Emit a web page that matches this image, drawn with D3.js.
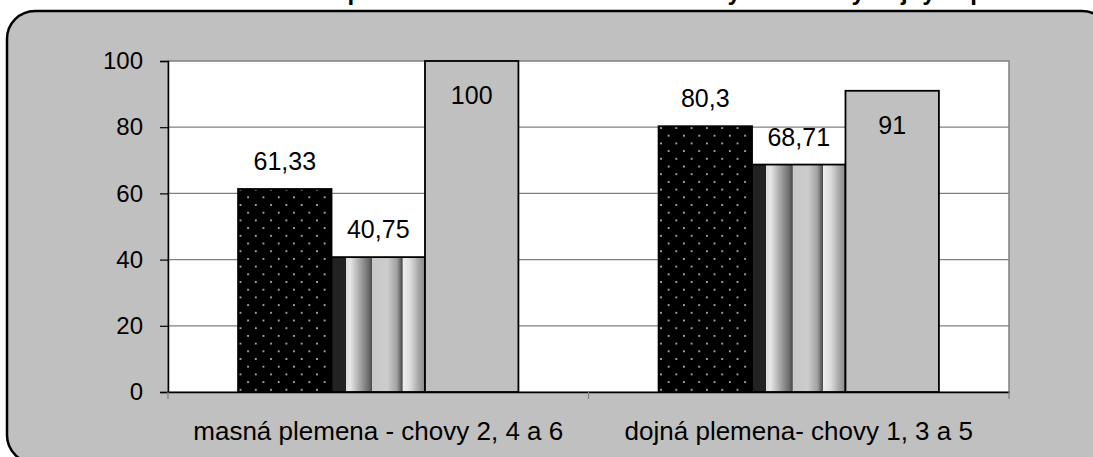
<!DOCTYPE html>
<html>
<head>
<meta charset="utf-8">
<script src="https://cdn.jsdelivr.net/npm/d3@7/dist/d3.min.js"></script>
<style>
  html, body { margin: 0; padding: 0; background: #ffffff; overflow: hidden; }
  svg { display: block; font-family: "Liberation Sans", Arial, sans-serif; }
</style>
</head>
<body>
<svg id="chart" width="1093" height="457"></svg>
<script>
// Categories (breed groups) and the three series values per category
const categories = ["masná plemena - chovy 2, 4 a 6", "dojná plemena- chovy 1, 3 a 5"];
const seriesKeys = ["s1", "s2", "s3"];
const series1 = [61.33, 80.3];
const series2 = [40.75, 68.71];
const series3 = [100, 91];
const yTicks = [0, 20, 40, 60, 80, 100];
const titleText = "Zabřezávání po 1. inseminaci v chovech masných a chovy dojných plemen";

const fmt = v => String(v).replace(".", ",");

const svg = d3.select("#chart");
const plot = { left: 168, right: 1009, top: 61, bottom: 392 };
const FONT = "Liberation Sans, Arial, sans-serif";

// ---- fills ----
const defs = svg.append("defs");

// black fill with staggered light dots
const dots = defs.append("pattern")
  .attr("id", "dots").attr("patternUnits", "userSpaceOnUse")
  .attr("x", 237).attr("y", 0)
  .attr("width", 15.3).attr("height", 15.4);
dots.append("rect").attr("width", 15.3).attr("height", 15.4).attr("fill", "#000");
dots.append("rect").attr("x", 3).attr("y", 4).attr("width", 1.6).attr("height", 1.6).attr("fill", "#e4e4e4");
dots.append("rect").attr("x", 10.6).attr("y", 11.7).attr("width", 1.6).attr("height", 1.6).attr("fill", "#e4e4e4");

// vertical cylinder-like stripes
const stripes = defs.append("linearGradient")
  .attr("id", "stripes").attr("x1", 0).attr("x2", 1).attr("y1", 0).attr("y2", 0);
[
  [0.000, "#222222"], [0.150, "#222222"],
  [0.152, "#dcdcdc"], [0.200, "#e6e6e6"], [0.300, "#a8a8a8"], [0.400, "#6a6a6a"], [0.432, "#4a4a4a"],
  [0.436, "#c8c8c8"], [0.600, "#cccccc"], [0.700, "#a0a0a0"], [0.750, "#555555"], [0.758, "#444444"],
  [0.762, "#eeeeee"], [0.840, "#dddddd"], [0.930, "#a8a8a8"], [1.000, "#8a8a8a"]
].forEach(([o, c]) => stripes.append("stop").attr("offset", o).attr("stop-color", c));

const fills = { s1: "url(#dots)", s2: "url(#stripes)", s3: "#c0c0c0" };

// ---- chart area frame ----
svg.append("rect")
  .attr("x", 7).attr("y", 11).attr("width", 1103).attr("height", 452)
  .attr("rx", 28).attr("ry", 28)
  .attr("fill", "#c0c0c0").attr("stroke", "#000").attr("stroke-width", 2.5);

// title (sits above the frame)
svg.append("text")
  .attr("x", 202).attr("y", 0)
  .attr("text-anchor", "start")
  .attr("font-size", 24).attr("font-weight", "bold").attr("fill", "#000")
  .text(titleText);

// ---- scales ----
const y = d3.scaleLinear().domain([0, 100]).range([plot.bottom, plot.top]);
const x0 = d3.scaleBand().domain(categories).range([plot.left, plot.right]).paddingInner(0).paddingOuter(0);
// bars fill 3 / 4.5 of each category (gap width 150%)
const groupW = x0.bandwidth() * 3 / 4.5;
const x1 = d3.scaleBand().domain(seriesKeys)
  .range([(x0.bandwidth() - groupW) / 2, (x0.bandwidth() + groupW) / 2]).padding(0);

// plot area
svg.append("rect")
  .attr("x", plot.left).attr("y", plot.top)
  .attr("width", plot.right - plot.left).attr("height", plot.bottom - plot.top)
  .attr("fill", "#ffffff").attr("stroke", "#808080").attr("stroke-width", 1.5);

// gridlines
svg.append("g").selectAll("line")
  .data(yTicks.filter(t => t > 0 && t < 100)).join("line")
  .attr("x1", plot.left).attr("x2", plot.right)
  .attr("y1", d => y(d)).attr("y2", d => y(d))
  .attr("stroke", "#808080").attr("stroke-width", 1.2);

// ---- bars ----
const rows = categories.map((c, i) => ({
  cat: c,
  values: [
    { key: "s1", value: series1[i] },
    { key: "s2", value: series2[i] },
    { key: "s3", value: series3[i] }
  ]
}));

const groups = svg.append("g").selectAll("g")
  .data(rows).join("g")
  .attr("transform", d => `translate(${x0(d.cat)},0)`);

groups.selectAll("rect")
  .data(d => d.values).join("rect")
  .attr("x", d => x1(d.key))
  .attr("y", d => y(d.value))
  .attr("width", x1.bandwidth())
  .attr("height", d => y(0) - y(d.value))
  .attr("fill", d => fills[d.key])
  .attr("stroke", "#000").attr("stroke-width", 1.8);

// value labels: tall bars carry the label inside their top, others above
groups.selectAll("text")
  .data(d => d.values).join("text")
  .attr("x", d => x1(d.key) + x1.bandwidth() / 2)
  .attr("y", d => d.value > 85 ? y(d.value) + 43 : y(d.value) - 19)
  .attr("text-anchor", "middle")
  .attr("font-size", 25).attr("fill", "#000")
  .text(d => fmt(d.value));

// ---- axes ----
const yAxis = d3.axisLeft(y).tickValues(yTicks).tickSize(8).tickPadding(17).tickFormat(d => d);
const gy = svg.append("g").attr("transform", `translate(${plot.left},0)`).call(yAxis);
gy.select(".domain").attr("stroke", "#000").attr("stroke-width", 1.5);
gy.selectAll(".tick line").attr("stroke", "#000").attr("stroke-width", 1.2);
gy.selectAll(".tick text").attr("font-size", 24).attr("fill", "#000").attr("font-family", FONT);

const xAxis = d3.axisBottom(x0).tickSize(0).tickPadding(30);
const gx = svg.append("g").attr("transform", `translate(0,${plot.bottom})`).call(xAxis);
gx.select(".domain").attr("stroke", "#000").attr("stroke-width", 1.5);
gx.selectAll(".tick text").attr("font-size", 26).attr("fill", "#000").attr("font-family", FONT);

// category boundary ticks
const bounds = categories.map(c => x0(c)).concat([x0(categories[categories.length - 1]) + x0.bandwidth()]);
gx.selectAll("line.bound").data(bounds).join("line")
  .attr("class", "bound")
  .attr("x1", d => d).attr("x2", d => d)
  .attr("y1", 0).attr("y2", 7)
  .attr("stroke", "#808080").attr("stroke-width", 1.2);
</script>
</body>
</html>
